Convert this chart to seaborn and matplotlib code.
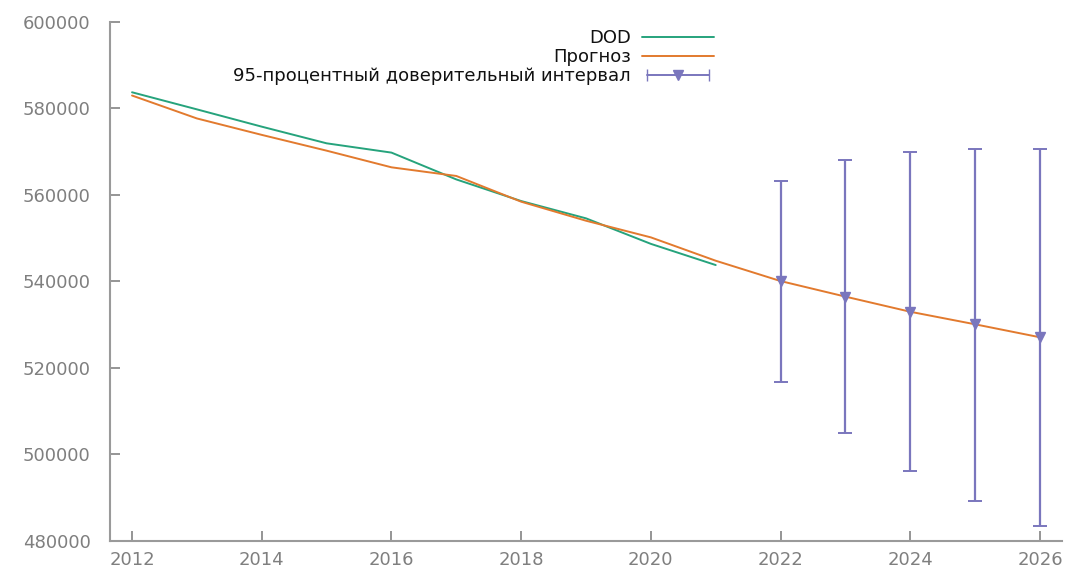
import numpy as np
import pandas as pd
import seaborn as sns
import matplotlib.pyplot as plt
from matplotlib.lines import Line2D
from matplotlib.legend_handler import HandlerLine2D, HandlerTuple

# данные
years_fact = [2012, 2013, 2014, 2015, 2016, 2017, 2018, 2019, 2020, 2021]
dod = [583750, 579800, 575800, 571950, 569800, 563600, 558600, 554600, 548700, 543800]

years_fc = [2012, 2013, 2014, 2015, 2016, 2017, 2018, 2019, 2020, 2021,
            2022, 2023, 2024, 2025, 2026]
forecast = [583000, 577700, 573900, 570250, 566400, 564400, 558450, 554050, 550200, 544800,
            540100, 536500, 533000, 530100, 527100]

years_ci = [2022, 2023, 2024, 2025, 2026]
ci_mid = [540100, 536500, 533000, 530100, 527100]
ci_low = [516800, 505000, 496200, 489200, 483500]
ci_high = [563300, 568100, 570000, 570600, 570600]

green = '#26a37c'
orange = '#e27a2e'
purple = '#7a76bd'

sns.set_style('white')
plt.rcParams['font.family'] = ['DejaVu Sans']

df_fact = pd.DataFrame({'year': years_fact, 'value': dod})
df_fc = pd.DataFrame({'year': years_fc, 'value': forecast})

fig = plt.figure(figsize=(10.72, 5.67), dpi=100)
ax = fig.add_axes([0.1026, 0.0459, 0.8881, 0.9153])

sns.lineplot(data=df_fact, x='year', y='value', color=green, linewidth=1.4, ax=ax)
sns.lineplot(data=df_fc, x='year', y='value', color=orange, linewidth=1.4, ax=ax)

mid = np.array(ci_mid)
yerr = [mid - np.array(ci_low), np.array(ci_high) - mid]
ax.errorbar(years_ci, ci_mid, yerr=yerr, fmt='v', color=purple, ecolor=purple,
            elinewidth=1.6, capsize=5, capthick=1.4, markersize=7, zorder=3)

ax.set_xlim(2011.66, 2026.34)
ax.set_ylim(480000, 600000)
ax.set_xticks(range(2012, 2027, 2))
ax.set_yticks(range(480000, 600001, 20000))
ax.set_xlabel('')
ax.set_ylabel('')

sns.despine(ax=ax)
for s in ['left', 'bottom']:
    ax.spines[s].set_color('#9a9a9a')
    ax.spines[s].set_linewidth(1.5)
ax.tick_params(bottom=True, left=True, direction='in', length=7, width=1.3,
               color='#8c8c8c', labelcolor='#7f7f7f', labelsize=13)
ax.tick_params(axis='y', pad=14)
ax.tick_params(axis='x', pad=7)

# легенда в стиле gnuplot
h_dod = Line2D([], [], color=green, linewidth=1.4)
h_fc = Line2D([], [], color=orange, linewidth=1.4)
h_caps = Line2D([], [], color=purple, linewidth=1.4, marker='|', markersize=9)
h_mark = Line2D([], [], color=purple, linestyle='none', marker='v', markersize=7)
h_ci = (h_caps, h_mark)

leg = ax.legend([h_dod, h_fc, h_ci],
                ['DOD', 'Прогноз', '95-процентный доверительный интервал'],
                handler_map={h_caps: HandlerLine2D(numpoints=2), h_ci: HandlerTuple(ndivide=1)},
                loc='upper right', bbox_to_anchor=(714 / 1072, 1 - 29 / 567),
                bbox_transform=fig.transFigure, frameon=False, markerfirst=False,
                fontsize=13, handlelength=4.0, handletextpad=0.6,
                labelspacing=0.06, borderpad=0, borderaxespad=0)
for t in leg.get_texts():
    t.set_color('#111111')

plt.savefig('out.png', dpi=100)
